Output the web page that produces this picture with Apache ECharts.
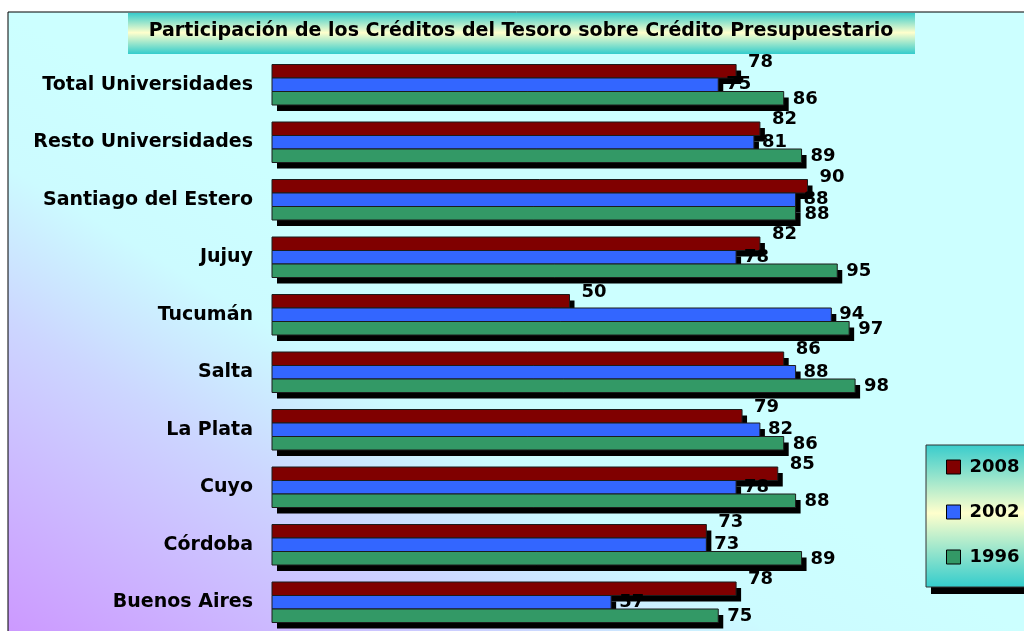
<!DOCTYPE html>
<html>
<head>
<meta charset="utf-8">
<script src="https://cdn.jsdelivr.net/npm/echarts@6/dist/echarts.min.js"></script>
<style>
  html, body { margin: 0; padding: 0; background: #fff; }
  #chart { width: 1024px; height: 631px; }
</style>
</head>
<body>
<div id="chart"></div>
<script>
var titulo = 'Participación de los Créditos del Tesoro sobre Crédito Presupuestario';

// de arriba hacia abajo
var universidades = ['Total Universidades', 'Resto Universidades', 'Santiago del Estero', 'Jujuy',
    'Tucumán', 'Salta', 'La Plata', 'Cuyo', 'Córdoba', 'Buenos Aires'];
var anios = ['2008', '2002', '1996'];
var v2008 = [78, 82, 90, 82, 50, 86, 79, 85, 73, 78];
var v2002 = [75, 81, 88, 78, 94, 88, 82, 78, 73, 57];
var v1996 = [86, 89, 88, 95, 97, 98, 86, 88, 89, 75];

var fuente = 'DejaVu Sans';
var colores = ['#800000', '#3366ff', '#339966'];
var desplaz = [[12, -9], [8, 0], [9, 1]];
var alto = 13.5;   // alto de cada barra

function degradeCian() {
    return new echarts.graphic.LinearGradient(0, 0, 0, 1, [
        { offset: 0, color: '#38cccc' },
        { offset: 0.48, color: '#ffffcc' },
        { offset: 1, color: '#33cccc' }
    ]);
}

// barra con sombra negra (efecto 3D de Excel) + etiqueta
function serie(nombre, datos, i) {
    return {
        name: nombre,
        type: 'custom',
        data: datos.map(function (v, k) { return [v, k]; }),
        encode: { x: 0, y: 1 },
        itemStyle: { color: colores[i] },
        renderItem: function (params, api) {
            var v = api.value(0);
            var ini = api.coord([0, api.value(1)]);
            var fin = api.coord([v, api.value(1)]);
            var y = ini[1] - 1.5 * alto + i * alto;
            var w = fin[0] - ini[0];
            return {
                type: 'group',
                children: [
                    { type: 'rect', shape: { x: ini[0] + 5, y: y + 6, width: w, height: alto }, style: { fill: '#000' } },
                    { type: 'rect', shape: { x: ini[0], y: y, width: w, height: alto },
                      style: { fill: colores[i], stroke: '#1c1c1c', lineWidth: 1 } },
                    { type: 'text', z2: 100, x: fin[0] + desplaz[i][0], y: y + alto / 2 + desplaz[i][1],
                      style: { text: String(v), fill: '#000', font: 'bold 18px "' + fuente + '"',
                               textAlign: 'left', textVerticalAlign: 'middle' } }
                ]
            };
        }
    };
}

var myChart = echarts.init(document.getElementById('chart'), null, { renderer: 'canvas' });

myChart.setOption({
    animation: false,
    title: {
        text: titulo,
        left: 521,
        top: 22,
        padding: 0,
        textAlign: 'center',
        textStyle: { fontFamily: fuente, fontWeight: 'bold', fontSize: 19, color: '#000' }
    },
    graphic: [
        {
            type: 'rect', z: -10, silent: true,
            shape: { x: 8, y: 12, width: 1100, height: 700 },
            style: {
                fill: new echarts.graphic.LinearGradient(8, 12, -267, 463, [
                    { offset: 0, color: '#ccffff' },
                    { offset: 0.25, color: '#ccfbff' },
                    { offset: 0.5, color: '#ccd6ff' },
                    { offset: 1, color: '#cc99ff' }
                ], true),
                stroke: '#000', lineWidth: 1
            }
        },
        {
            type: 'rect', z: -5, silent: true,
            shape: { x: 128, y: 13, width: 787, height: 41 },
            style: { fill: degradeCian() }
        },
        // caja de la leyenda con su sombra
        {
            type: 'rect', z: 1, silent: true,
            shape: { x: 931, y: 452, width: 140, height: 142 },
            style: { fill: '#000' }
        },
        {
            type: 'rect', z: 2, silent: true,
            shape: { x: 926, y: 445, width: 140, height: 142 },
            style: { fill: degradeCian(), stroke: '#333', lineWidth: 1 }
        }
    ],
    legend: {
        data: anios,
        orient: 'vertical',
        left: 926,
        top: 445,
        padding: [11, 40, 19, 20],
        itemGap: 23,
        itemWidth: 14,
        itemHeight: 14,
        icon: 'rect',
        itemStyle: { borderColor: '#000', borderWidth: 1 },
        textStyle: { fontFamily: fuente, fontWeight: 'bold', fontSize: 18, color: '#000', lineHeight: 22, padding: [0, 0, 0, 4] }
    },
    grid: {
        left: 272,
        right: 157,
        top: 56,
        height: 576
    },
    xAxis: {
        type: 'value',
        min: 0,
        max: 100,
        show: false
    },
    yAxis: {
        type: 'category',
        inverse: true,
        data: universidades,
        axisLine: { show: false },
        axisTick: { show: false },
        axisLabel: {
            margin: 19,
            color: '#000',
            fontFamily: fuente,
            fontWeight: 'bold',
            fontSize: 19
        }
    },
    series: [
        serie('2008', v2008, 0),
        serie('2002', v2002, 1),
        serie('1996', v1996, 2)
    ]
});
</script>
</body>
</html>
